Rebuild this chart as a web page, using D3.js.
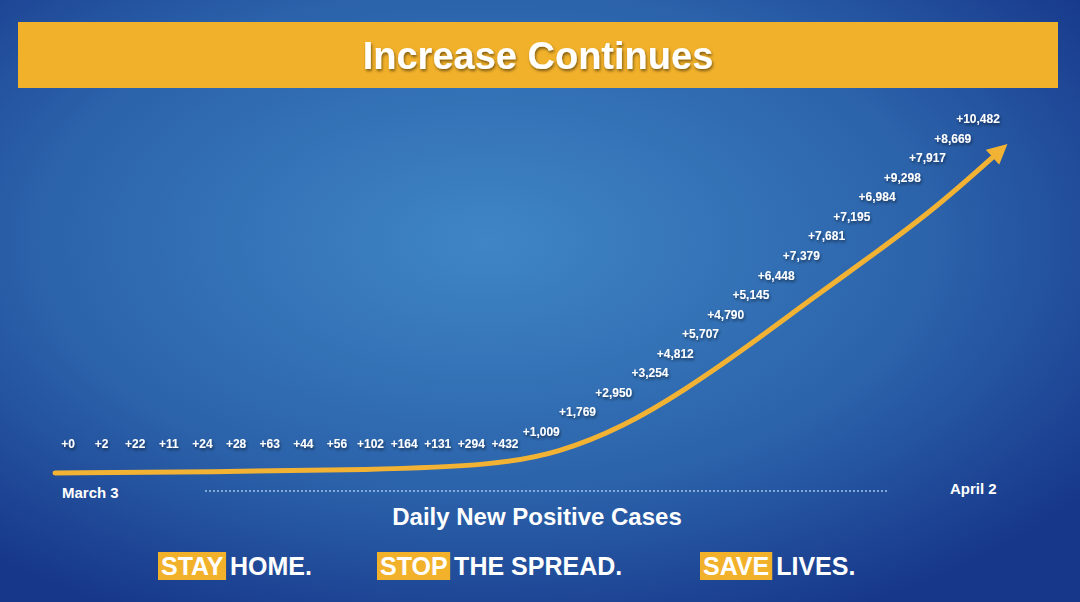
<!DOCTYPE html><html><head><meta charset="utf-8">
<script src="https://cdn.jsdelivr.net/npm/d3@7/dist/d3.min.js"></script>
<style>body{margin:0;background:#1b3f8a}svg{display:block;font-family:"Liberation Sans",Arial,sans-serif}</style></head><body>
<svg id="c" width="1080" height="602"></svg>
<script>
const values = [0,2,22,11,24,28,63,44,56,102,164,131,294,432,1009,1769,2950,3254,4812,5707,4790,5145,6448,7379,7681,7195,6984,9298,7917,8669,10482];
// smoothed trend line as drawn in the picture (day, value)
const trendDays = [0,5,10,14,16,18,20,22,24,26,28,30];
const trendVals = [0,40,100,250,650,1450,2650,4050,5550,7000,8500,10300];
const startLabel = "March 3", endLabel = "April 2";
const svg = d3.select("#c");
const defs = svg.append("defs");
const rg = defs.append("radialGradient").attr("id","bg").attr("cx","45%").attr("cy","40%").attr("r","70%");
rg.append("stop").attr("offset","0%").attr("stop-color","#3f86c6");
rg.append("stop").attr("offset","60%").attr("stop-color","#2b62aa");
rg.append("stop").attr("offset","100%").attr("stop-color","#17378a");
svg.append("rect").attr("width",1080).attr("height",602).attr("fill","url(#bg)");
const f = defs.append("filter").attr("id","sh");
f.append("feDropShadow").attr("dx",1).attr("dy",2).attr("stdDeviation",1.5).attr("flood-color","#000").attr("flood-opacity",0.5);
defs.append("marker").attr("id","ar").attr("viewBox","0 0 10 10").attr("refX",5).attr("refY",5)
 .attr("markerWidth",4).attr("markerHeight",4).attr("orient","auto")
 .append("path").attr("d","M0,0L10,5L0,10z").attr("fill","#f2b233");
svg.append("rect").attr("x",18).attr("y",22).attr("width",1040).attr("height",66).attr("fill","#f2b12a");
svg.append("text").attr("x",538).attr("y",69).attr("text-anchor","middle").attr("fill","#fff")
 .attr("font-size",38).attr("font-weight","bold").attr("filter","url(#sh)").text("Increase Continues");
const x = d3.scaleLinear().domain([0,30]).range([55,1000]);
const y = d3.scaleLinear().domain([0,10482]).range([473,145]);
svg.append("path").datum(trendVals).attr("fill","none").attr("stroke","#f2b233").attr("stroke-width",5)
 .attr("stroke-linecap","round").attr("marker-end","url(#ar)")
 .attr("d",d3.line().x((d,i)=>x(trendDays[i])).y(d=>y(d)).curve(d3.curveBasis));
const lx = d3.scaleLinear().domain([0,13,17,30]).range([68,505,650,978]);
const ly = d3.scaleLinear().domain([0,13,14,30]).range([444,444,432,119]);
const fmt = d3.format(",");
svg.selectAll(".lb").data(values).join("text").attr("class","lb")
 .attr("x",(d,i)=>lx(i)).attr("y",(d,i)=>ly(i)+4).attr("text-anchor","middle")
 .attr("fill","#fff").attr("font-size",12).attr("font-weight","bold").attr("filter","url(#sh)")
 .text(d=>"+"+fmt(d));
svg.append("line").attr("x1",205).attr("x2",888).attr("y1",491).attr("y2",491)
 .attr("stroke","#9fc3ea").attr("stroke-width",1.5).attr("stroke-dasharray","2,2");
svg.append("text").attr("x",62).attr("y",498).attr("fill","#fff").attr("font-size",15).attr("font-weight","bold").text(startLabel);
svg.append("text").attr("x",950).attr("y",494).attr("fill","#fff").attr("font-size",15).attr("font-weight","bold").text(endLabel);
svg.append("text").attr("x",537).attr("y",525).attr("text-anchor","middle").attr("fill","#fff").attr("font-size",24).attr("font-weight","bold").text("Daily New Positive Cases");
const slog = [["STAY"," HOME.",158],["STOP"," THE SPREAD.",377],["SAVE"," LIVES.",700]];
slog.forEach(([a,b,x0])=>{
  const t = svg.append("text").attr("x",x0+3).attr("y",575).attr("font-size",25).attr("font-weight","bold").attr("fill","#fff");
  const s1 = t.append("tspan").text(a);
  t.append("tspan").text(b);
  const w = s1.node().getComputedTextLength();
  svg.insert("rect","text:last-of-type").attr("x",x0).attr("y",552).attr("width",w+6).attr("height",28).attr("fill","#f2b12a");
  t.raise();
});
</script></body></html>
